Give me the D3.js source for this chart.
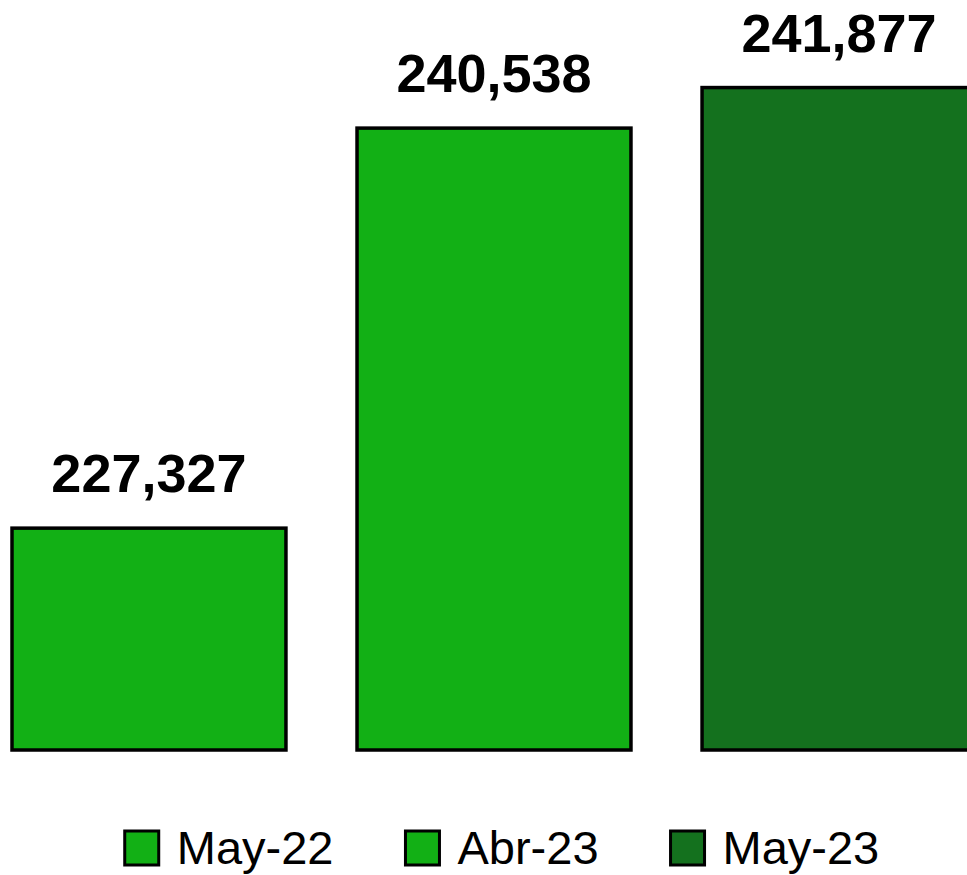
<!DOCTYPE html>
<meta charset="utf-8">
<style>
    body { margin: 0; background: #fff; }
    .bar { stroke: #000; stroke-width: 3.5; }
    .label { font-family: "Liberation Sans", Arial, sans-serif; font-weight: bold; font-size: 54px; fill: #000; }
    .legend text { font-family: "Liberation Sans", Arial, sans-serif; font-size: 47px; fill: #000; }
</style>
<svg width="967" height="875"></svg>
<script src="https://cdn.jsdelivr.net/npm/d3@7"></script>
<script>
    var categories = ["May-22", "Abr-23", "May-23"];
    var values = [227327, 240538, 241877];
    var colors = ["#12B015", "#12B015", "#14711E"];

    var svg = d3.select("svg");

    // bars overflow to the right edge, like the original crop
    var x = d3.scaleBand()
        .domain(categories)
        .range([12, 976])
        .paddingInner(0.206)
        .paddingOuter(0);

    var y = d3.scaleLinear()
        .domain([220000, 245000])
        .range([750, -7]);

    var fmt = d3.format(",");

    svg.selectAll(".bar")
        .data(values)
        .enter().append("rect")
        .attr("class", "bar")
        .attr("x", function (d, i) { return x(categories[i]); })
        .attr("y", function (d) { return y(d); })
        .attr("width", x.bandwidth())
        .attr("height", function (d) { return y.range()[0] - y(d); })
        .attr("fill", function (d, i) { return colors[i]; });

    svg.selectAll(".label")
        .data(values)
        .enter().append("text")
        .attr("class", "label")
        .attr("text-anchor", "middle")
        .attr("x", function (d, i) { return x(categories[i]) + x.bandwidth() / 2; })
        .attr("y", function (d) { return y(d) - 36; })
        .text(function (d) { return fmt(d); });

    // legend, centred under the chart
    var legend = svg.append("g").attr("class", "legend");
    var sq = 34, gapText = 18, gapItem = 72, cx = 502, ly = 848;

    var items = legend.selectAll("g")
        .data(categories)
        .enter().append("g");

    items.append("rect")
        .attr("width", sq)
        .attr("height", sq)
        .attr("y", ly - sq / 2)
        .attr("fill", function (d, i) { return colors[i]; })
        .attr("stroke", "#000")
        .attr("stroke-width", 3);

    items.append("text")
        .attr("x", sq + gapText)
        .attr("y", ly + 16)
        .text(function (d) { return d; });

    var widths = [];
    items.each(function () { widths.push(this.getBBox().width); });
    var total = d3.sum(widths) + gapItem * (widths.length - 1);
    var pos = cx - total / 2;
    items.attr("transform", function (d, i) {
        var t = "translate(" + pos + ",0)";
        pos += widths[i] + gapItem;
        return t;
    });
</script>
